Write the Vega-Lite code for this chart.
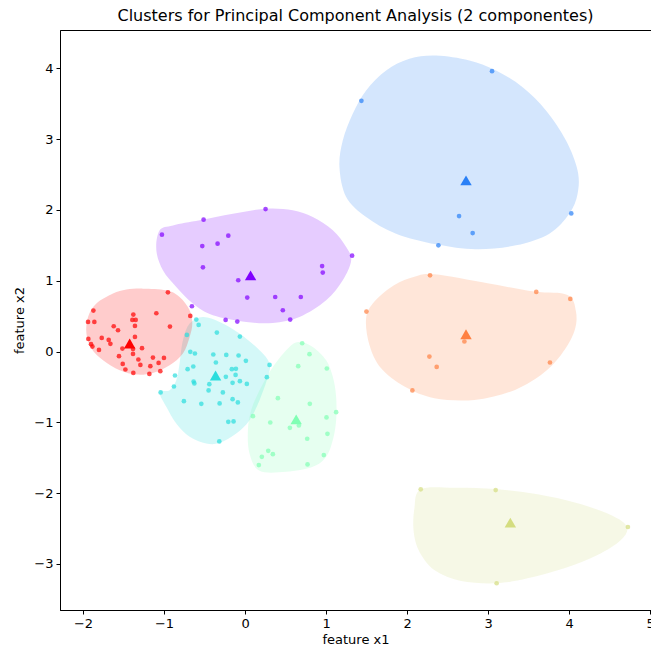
{
  "$schema": "https://vega.github.io/schema/vega-lite/v6.json",
  "autosize": "none",
  "width": 591,
  "height": 580,
  "padding": {"left": 60, "top": 30, "right": 0, "bottom": 42},
  "background": "white",
  "title": {"text": "Clusters for Principal Component Analysis (2 componentes)", "font": "DejaVu Sans", "fontSize": 16, "fontWeight": "normal", "color": "black", "offset": 6, "anchor": "middle"},
  "config": {
    "font": "DejaVu Sans",
    "view": {"stroke": "black", "strokeWidth": 1},
    "axis": {"grid": false, "domainColor": "black", "domainWidth": 1, "tickColor": "black", "tickSize": 4, "tickWidth": 1, "labelColor": "black", "labelFont": "DejaVu Sans", "labelFontSize": 13, "labelPadding": 3, "labelFlush": false, "labelOverlap": false, "titleFont": "DejaVu Sans", "titleFontSize": 13, "titleFontWeight": "normal", "titleColor": "black"}
  },
  "datasets": {
    "blobs": [
      {"c":"0","i":0,"x":-1.054,"y":1.711},{"c":"0","i":1,"x":-1.095,"y":1.429},{"c":"0","i":2,"x":-1.014,"y":1.147},{"c":"0","i":3,"x":-0.849,"y":0.911},{"c":"0","i":4,"x":-0.644,"y":0.677},{"c":"0","i":5,"x":-0.397,"y":0.512},{"c":"0","i":6,"x":0.015,"y":0.418},{"c":"0","i":7,"x":0.343,"y":0.404},{"c":"0","i":8,"x":0.672,"y":0.488},{"c":"0","i":9,"x":1.001,"y":0.724},{"c":"0","i":10,"x":1.206,"y":1.006},{"c":"0","i":11,"x":1.310,"y":1.288},{"c":"0","i":12,"x":1.248,"y":1.475},{"c":"0","i":13,"x":1.083,"y":1.711},{"c":"0","i":14,"x":0.836,"y":1.898},{"c":"0","i":15,"x":0.589,"y":1.993},{"c":"0","i":16,"x":0.261,"y":2.017},{"c":"0","i":17,"x":-0.150,"y":1.946},{"c":"0","i":18,"x":-0.561,"y":1.852},{"c":"0","i":19,"x":-0.890,"y":1.781},
      {"c":"1","i":0,"x":2.357,"y":4.179},{"c":"1","i":1,"x":2.768,"y":4.109},{"c":"1","i":2,"x":3.097,"y":3.968},{"c":"1","i":3,"x":3.426,"y":3.732},{"c":"1","i":4,"x":3.714,"y":3.403},{"c":"1","i":5,"x":3.961,"y":2.980},{"c":"1","i":6,"x":4.104,"y":2.557},{"c":"1","i":7,"x":4.104,"y":2.228},{"c":"1","i":8,"x":4.001,"y":1.946},{"c":"1","i":9,"x":3.755,"y":1.664},{"c":"1","i":10,"x":3.344,"y":1.499},{"c":"1","i":11,"x":2.851,"y":1.443},{"c":"1","i":12,"x":2.357,"y":1.513},{"c":"1","i":13,"x":1.864,"y":1.664},{"c":"1","i":14,"x":1.494,"y":1.899},{"c":"1","i":15,"x":1.248,"y":2.181},{"c":"1","i":16,"x":1.165,"y":2.604},{"c":"1","i":17,"x":1.206,"y":2.980},{"c":"1","i":18,"x":1.329,"y":3.357},{"c":"1","i":19,"x":1.494,"y":3.686},{"c":"1","i":20,"x":1.741,"y":3.968},{"c":"1","i":21,"x":2.028,"y":4.133},
      {"c":"2","i":0,"x":-0.520,"y":0.488},{"c":"2","i":1,"x":-0.314,"y":0.418},{"c":"2","i":2,"x":-0.068,"y":0.254},{"c":"2","i":3,"x":0.179,"y":0.018},{"c":"2","i":4,"x":0.302,"y":-0.169},{"c":"2","i":5,"x":0.281,"y":-0.358},{"c":"2","i":6,"x":0.179,"y":-0.687},{"c":"2","i":7,"x":0.055,"y":-0.969},{"c":"2","i":8,"x":-0.109,"y":-1.157},{"c":"2","i":9,"x":-0.314,"y":-1.289},{"c":"2","i":10,"x":-0.479,"y":-1.298},{"c":"2","i":11,"x":-0.684,"y":-1.204},{"c":"2","i":12,"x":-0.849,"y":-1.016},{"c":"2","i":13,"x":-0.972,"y":-0.781},{"c":"2","i":14,"x":-1.054,"y":-0.578},{"c":"2","i":15,"x":-0.931,"y":-0.546},{"c":"2","i":16,"x":-0.849,"y":-0.405},{"c":"2","i":17,"x":-0.808,"y":-0.169},{"c":"2","i":18,"x":-0.767,"y":0.159},{"c":"2","i":19,"x":-0.684,"y":0.395},
      {"c":"3","i":0,"x":0.672,"y":0.135},{"c":"3","i":1,"x":0.836,"y":0.065},{"c":"3","i":2,"x":1.001,"y":-0.123},{"c":"3","i":3,"x":1.083,"y":-0.358},{"c":"3","i":4,"x":1.124,"y":-0.640},{"c":"3","i":5,"x":1.124,"y":-0.969},{"c":"3","i":6,"x":1.083,"y":-1.251},{"c":"3","i":7,"x":1.001,"y":-1.487},{"c":"3","i":8,"x":0.836,"y":-1.628},{"c":"3","i":9,"x":0.508,"y":-1.698},{"c":"3","i":10,"x":0.179,"y":-1.684},{"c":"3","i":11,"x":0.055,"y":-1.439},{"c":"3","i":12,"x":0.035,"y":-1.110},{"c":"3","i":13,"x":0.076,"y":-0.828},{"c":"3","i":14,"x":0.179,"y":-0.546},{"c":"3","i":15,"x":0.343,"y":-0.217},{"c":"3","i":16,"x":0.548,"y":0.065},
      {"c":"4","i":0,"x":2.168,"y":-1.946},{"c":"4","i":1,"x":2.583,"y":-1.923},{"c":"4","i":2,"x":3.093,"y":-1.942},{"c":"4","i":3,"x":3.610,"y":-2.017},{"c":"4","i":4,"x":4.104,"y":-2.144},{"c":"4","i":5,"x":4.515,"y":-2.309},{"c":"4","i":6,"x":4.713,"y":-2.474},{"c":"4","i":7,"x":4.639,"y":-2.662},{"c":"4","i":8,"x":4.350,"y":-2.873},{"c":"4","i":9,"x":3.940,"y":-3.061},{"c":"4","i":10,"x":3.487,"y":-3.202},{"c":"4","i":11,"x":3.105,"y":-3.272},{"c":"4","i":12,"x":2.666,"y":-3.240},{"c":"4","i":13,"x":2.337,"y":-3.085},{"c":"4","i":14,"x":2.152,"y":-2.826},{"c":"4","i":15,"x":2.081,"y":-2.544},{"c":"4","i":16,"x":2.090,"y":-2.214},
      {"c":"5","i":0,"x":2.337,"y":1.090},{"c":"5","i":1,"x":2.994,"y":0.963},{"c":"5","i":2,"x":3.570,"y":0.846},{"c":"5","i":3,"x":3.980,"y":0.798},{"c":"5","i":4,"x":4.084,"y":0.564},{"c":"5","i":5,"x":4.063,"y":0.282},{"c":"5","i":6,"x":3.899,"y":-0.048},{"c":"5","i":7,"x":3.652,"y":-0.330},{"c":"5","i":8,"x":3.282,"y":-0.564},{"c":"5","i":9,"x":2.830,"y":-0.683},{"c":"5","i":10,"x":2.337,"y":-0.659},{"c":"5","i":11,"x":1.967,"y":-0.494},{"c":"5","i":12,"x":1.679,"y":-0.236},{"c":"5","i":13,"x":1.535,"y":0.093},{"c":"5","i":14,"x":1.494,"y":0.470},{"c":"5","i":15,"x":1.597,"y":0.705},{"c":"5","i":16,"x":1.843,"y":0.939},{"c":"5","i":17,"x":2.090,"y":1.057},
      {"c":"6","i":0,"x":-1.260,"y":0.888},{"c":"6","i":1,"x":-0.972,"y":0.865},{"c":"6","i":2,"x":-0.808,"y":0.771},{"c":"6","i":3,"x":-0.684,"y":0.583},{"c":"6","i":4,"x":-0.651,"y":0.395},{"c":"6","i":5,"x":-0.684,"y":0.206},{"c":"6","i":6,"x":-0.767,"y":-0.028},{"c":"6","i":7,"x":-0.931,"y":-0.193},{"c":"6","i":8,"x":-1.137,"y":-0.302},{"c":"6","i":9,"x":-1.342,"y":-0.325},{"c":"6","i":10,"x":-1.547,"y":-0.264},{"c":"6","i":11,"x":-1.753,"y":-0.123},{"c":"6","i":12,"x":-1.896,"y":0.042},{"c":"6","i":13,"x":-1.958,"y":0.254},{"c":"6","i":14,"x":-1.938,"y":0.488},{"c":"6","i":15,"x":-1.835,"y":0.677},{"c":"6","i":16,"x":-1.630,"y":0.818},{"c":"6","i":17,"x":-1.465,"y":0.874}
    ],
    "points": [
      {"c":"0","x":0.253,"y":2.011},{"c":"0","x":-0.512,"y":1.862},{"c":"0","x":-1.026,"y":1.650},{"c":"0","x":-0.207,"y":1.636},{"c":"0","x":-0.339,"y":1.523},{"c":"0","x":-0.528,"y":1.489},{"c":"0","x":-0.520,"y":1.189},{"c":"0","x":1.321,"y":1.354},{"c":"0","x":0.951,"y":1.207},{"c":"0","x":0.959,"y":1.114},{"c":"0","x":-0.084,"y":1.006},{"c":"0","x":0.027,"y":0.761},{"c":"0","x":0.372,"y":0.770},{"c":"0","x":0.688,"y":0.770},{"c":"0","x":0.466,"y":0.583},{"c":"0","x":0.557,"y":0.451},{"c":"0","x":-0.240,"y":0.446},{"c":"0","x":-0.096,"y":0.423},{"c":"0","x":-0.656,"y":0.639},
      {"c":"1","x":3.048,"y":3.958},{"c":"1","x":1.436,"y":3.540},{"c":"1","x":2.641,"y":1.913},{"c":"1","x":2.809,"y":1.673},{"c":"1","x":2.386,"y":1.499},{"c":"1","x":4.026,"y":1.950},
      {"c":"2","x":-0.602,"y":0.451},{"c":"2","x":-0.573,"y":0.376},{"c":"2","x":-0.718,"y":0.234},{"c":"2","x":-0.348,"y":0.268},{"c":"2","x":-0.064,"y":0.211},{"c":"2","x":-0.676,"y":-0.005},{"c":"2","x":-0.619,"y":-0.028},{"c":"2","x":-0.392,"y":-0.042},{"c":"2","x":-0.232,"y":-0.048},{"c":"2","x":-0.080,"y":-0.056},{"c":"2","x":-0.360,"y":-0.155},{"c":"2","x":0.010,"y":-0.132},{"c":"2","x":0.302,"y":-0.189},{"c":"2","x":-0.709,"y":-0.250},{"c":"2","x":-0.639,"y":-0.212},{"c":"2","x":-0.163,"y":-0.250},{"c":"2","x":-0.113,"y":-0.245},{"c":"2","x":-0.117,"y":-0.330},{"c":"2","x":-0.237,"y":-0.358},{"c":"2","x":0.269,"y":-0.362},{"c":"2","x":-0.865,"y":-0.339},{"c":"2","x":-0.635,"y":-0.423},{"c":"2","x":-0.626,"y":-0.451},{"c":"2","x":-0.441,"y":-0.461},{"c":"2","x":-0.154,"y":-0.442},{"c":"2","x":-0.064,"y":-0.419},{"c":"2","x":0.022,"y":-0.457},{"c":"2","x":-0.878,"y":-0.494},{"c":"2","x":-0.450,"y":-0.550},{"c":"2","x":-0.274,"y":-0.578},{"c":"2","x":-1.042,"y":-0.578},{"c":"2","x":-0.154,"y":-0.673},{"c":"2","x":-0.089,"y":-0.719},{"c":"2","x":-0.755,"y":-0.701},{"c":"2","x":-0.540,"y":-0.739},{"c":"2","x":-0.314,"y":-0.733},{"c":"2","x":-0.207,"y":-0.993},{"c":"2","x":-0.142,"y":-0.987},{"c":"2","x":-0.318,"y":-1.269},
      {"c":"3","x":0.705,"y":0.117},{"c":"3","x":0.795,"y":-0.038},{"c":"3","x":0.656,"y":-0.207},{"c":"3","x":1.009,"y":-0.240},{"c":"3","x":0.405,"y":-0.659},{"c":"3","x":0.799,"y":-0.739},{"c":"3","x":1.124,"y":-0.856},{"c":"3","x":0.097,"y":-0.913},{"c":"3","x":0.311,"y":-1.002},{"c":"3","x":1.005,"y":-0.931},{"c":"3","x":0.553,"y":-1.077},{"c":"3","x":0.664,"y":-1.044},{"c":"3","x":0.767,"y":-1.232},{"c":"3","x":1.017,"y":-1.162},{"c":"3","x":0.286,"y":-1.402},{"c":"3","x":0.343,"y":-1.449},{"c":"3","x":0.207,"y":-1.487},{"c":"3","x":0.972,"y":-1.463},{"c":"3","x":0.170,"y":-1.604},{"c":"3","x":0.771,"y":-1.594},
      {"c":"4","x":2.168,"y":-1.946},{"c":"4","x":3.093,"y":-1.956},{"c":"4","x":4.725,"y":-2.478},{"c":"4","x":3.105,"y":-3.272},
      {"c":"5","x":2.283,"y":1.076},{"c":"5","x":1.498,"y":0.564},{"c":"5","x":3.594,"y":0.841},{"c":"5","x":4.014,"y":0.742},{"c":"5","x":2.707,"y":0.141},{"c":"5","x":2.275,"y":-0.071},{"c":"5","x":2.365,"y":-0.217},{"c":"5","x":3.763,"y":-0.155},{"c":"5","x":2.065,"y":-0.550},
      {"c":"6","x":-0.952,"y":0.836},{"c":"6","x":-1.872,"y":0.578},{"c":"6","x":-1.938,"y":0.418},{"c":"6","x":-1.860,"y":0.418},{"c":"6","x":-1.379,"y":0.521},{"c":"6","x":-1.391,"y":0.446},{"c":"6","x":-1.350,"y":0.446},{"c":"6","x":-1.095,"y":0.540},{"c":"6","x":-1.359,"y":0.362},{"c":"6","x":-1.621,"y":0.357},{"c":"6","x":-1.568,"y":0.300},{"c":"6","x":-0.927,"y":0.352},{"c":"6","x":-0.676,"y":0.503},{"c":"6","x":-1.934,"y":0.178},{"c":"6","x":-1.769,"y":0.192},{"c":"6","x":-1.683,"y":0.164},{"c":"6","x":-1.662,"y":0.108},{"c":"6","x":-1.901,"y":0.103},{"c":"6","x":-1.884,"y":0.070},{"c":"6","x":-1.803,"y":0.023},{"c":"6","x":-1.359,"y":0.206},{"c":"6","x":-1.514,"y":0.042},{"c":"6","x":-1.272,"y":0.047},{"c":"6","x":-1.383,"y":0.037},{"c":"6","x":-1.383,"y":-0.034},{"c":"6","x":-1.556,"y":-0.066},{"c":"6","x":-1.317,"y":-0.113},{"c":"6","x":-1.292,"y":-0.189},{"c":"6","x":-1.137,"y":-0.085},{"c":"6","x":-1.001,"y":-0.090},{"c":"6","x":-1.067,"y":-0.161},{"c":"6","x":-1.510,"y":-0.175},{"c":"6","x":-1.169,"y":-0.207},{"c":"6","x":-1.477,"y":-0.254},{"c":"6","x":-1.379,"y":-0.302},{"c":"6","x":-1.181,"y":-0.316},{"c":"6","x":-1.046,"y":-0.278}
    ],
    "centroids": [
      {"c":"0","x":0.068,"y":1.076},{"c":"1","x":2.727,"y":2.416},{"c":"2","x":-0.364,"y":-0.339},{"c":"3","x":0.631,"y":-0.959},{"c":"4","x":3.274,"y":-2.417},{"c":"5","x":2.727,"y":0.244},{"c":"6","x":-1.424,"y":0.113}
    ]
  },
  "encoding": {
    "x": {"field": "x", "type": "quantitative", "scale": {"domain": [-2.284, 5.01], "nice": false, "zero": false}, "axis": {"values": [-2,-1,0,1,2,3,4,5], "title": "feature x1", "titlePadding": 3}},
    "y": {"field": "y", "type": "quantitative", "scale": {"domain": [-3.65, 4.54], "nice": false, "zero": false}, "axis": {"values": [-3,-2,-1,0,1,2,3,4], "title": "feature x2", "titlePadding": 7}},
    "color": {"field": "c", "type": "nominal", "legend": null, "scale": {"domain": ["0","1","2","3","4","5","6"], "range": ["#8000ff","#2a80f6","#2adddd","#80ffb4","#d4dd80","#ff8042","#ff0000"]}}
  },
  "layer": [
    {"data": {"name": "blobs"}, "mark": {"type": "line", "filled": true, "interpolate": "cardinal-closed", "opacity": 0.2, "strokeWidth": 0}, "encoding": {"order": {"field": "i", "type": "quantitative"}}},
    {"data": {"name": "points"}, "mark": {"type": "circle", "size": 22, "opacity": 0.7}},
    {"data": {"name": "centroids"}, "mark": {"type": "point", "shape": "triangle-up", "filled": true, "size": 130, "opacity": 1}}
  ]
}
